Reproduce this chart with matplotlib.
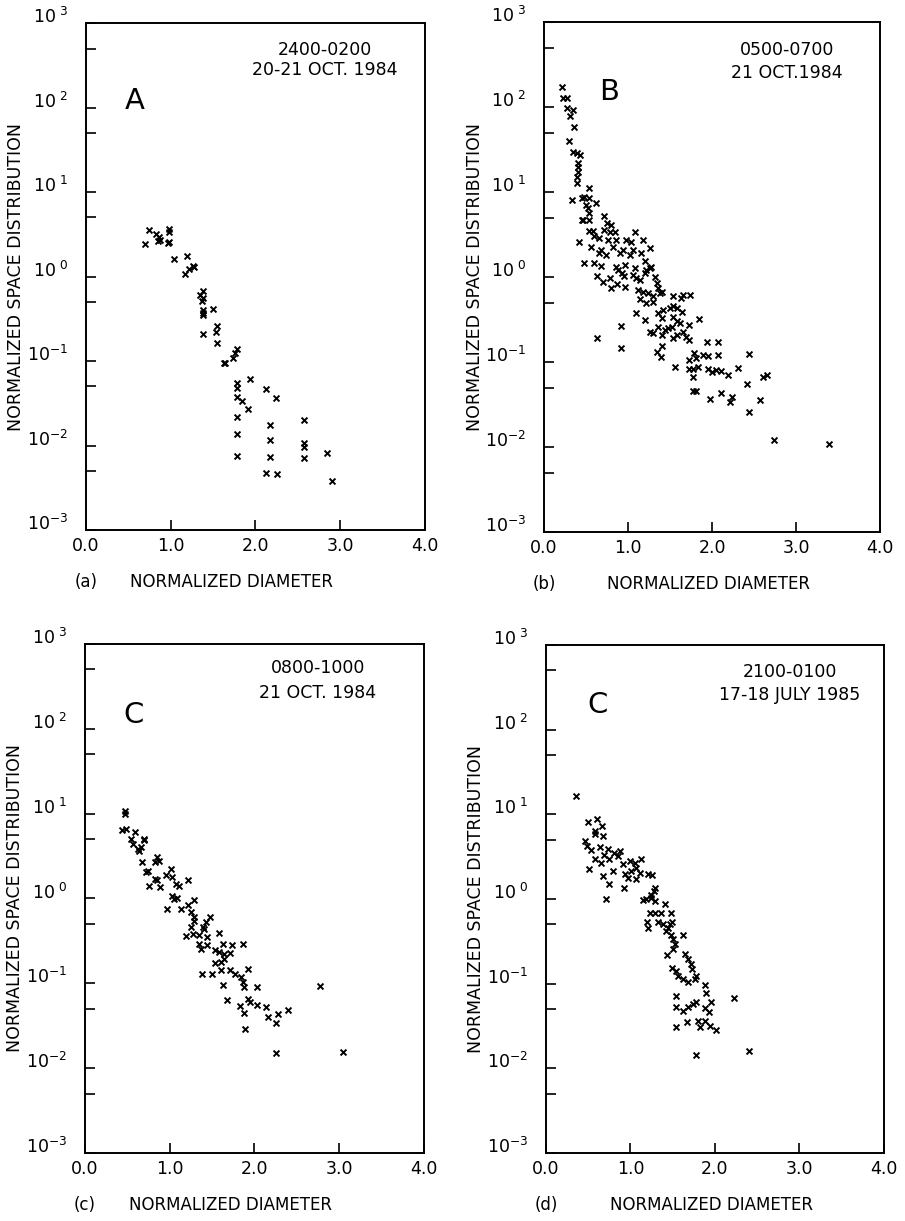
import numpy as np
import matplotlib.pyplot as plt
from matplotlib.ticker import FixedLocator, NullFormatter
from matplotlib.transforms import ScaledTranslation

plt.rcParams['font.family'] = 'DejaVu Sans'
plt.rcParams['mathtext.fontset'] = 'dejavusans'

# --- panel A : 2400-0200, 20-21 Oct 1984
a_x = [0.74, 0.83, 0.86, 0.85, 0.87, 0.70, 0.98, 0.98, 0.98, 0.97,
       1.04, 1.19, 1.17, 1.22, 1.26, 1.27, 1.38, 1.35, 1.38, 1.37,
       1.38, 1.38, 1.38, 1.50, 1.55, 1.53, 1.38, 1.55, 1.78, 1.76,
       1.74, 1.63, 1.64, 1.94, 1.78, 1.78, 1.78, 1.84, 1.91, 1.78,
       2.13, 2.24, 1.78, 2.17, 2.17, 1.78, 2.17, 2.57, 2.57, 2.57,
       2.57, 2.84, 2.13, 2.25, 2.90]
a_y = [3.6, 3.2, 2.95, 2.63, 2.7, 2.43, 3.7, 3.38, 2.58, 2.47,
       1.61, 1.77, 1.06, 1.23, 1.35, 1.28, 0.667, 0.61, 0.556, 0.52,
       0.405, 0.37, 0.348, 0.413, 0.258, 0.221, 0.21, 0.163, 0.137, 0.125,
       0.109, 0.094, 0.094, 0.062, 0.0556, 0.0485, 0.038, 0.0338, 0.027, 0.0215,
       0.0465, 0.037, 0.0137, 0.0177, 0.0117, 0.00755, 0.0073, 0.0202, 0.0106, 0.0095,
       0.0072, 0.0082, 0.0047, 0.0046, 0.0038]

# --- panel B : 0500-0700, 21 Oct 1984
b_x = [0.21, 0.23, 0.27, 0.27, 0.35, 0.31, 0.36, 0.30, 0.34, 0.39,
       0.43, 0.41, 0.41, 0.41, 0.39, 0.39, 0.33, 0.54, 0.45, 0.48,
       0.54, 0.62, 0.50, 0.52, 0.54, 0.45, 0.47, 0.54, 0.71, 0.54,
       0.58, 0.42, 0.75, 0.80, 0.71, 0.79, 0.85, 1.08, 0.60, 0.66,
       0.76, 0.86, 0.98, 1.04, 1.18, 0.56, 0.68, 0.82, 0.94, 1.06,
       1.26, 0.66, 0.74, 0.90, 1.02, 1.15, 0.48, 0.60, 0.68, 0.86,
       0.96, 1.08, 1.20, 1.27, 0.63, 0.70, 0.79, 0.80, 0.87, 0.97,
       0.88, 0.93, 0.95, 1.06, 1.10, 1.14, 1.20, 1.22, 1.26, 1.32,
       1.34, 1.12, 1.18, 1.24, 1.30, 1.36, 1.38, 1.40, 1.14, 1.21,
       1.30, 1.54, 1.65, 1.74, 1.63, 1.10, 1.20, 1.36, 1.40, 1.42,
       1.50, 1.54, 1.58, 1.64, 1.54, 1.58, 1.62, 1.26, 1.30, 1.36,
       1.40, 1.44, 1.48, 1.52, 1.54, 1.58, 1.65, 1.69, 1.73, 1.73,
       1.84, 0.92, 0.63, 0.92, 1.34, 1.40, 1.39, 1.56, 1.73, 1.79,
       1.81, 1.83, 1.89, 1.95, 1.73, 1.77, 1.77, 1.77, 1.81, 1.94,
       2.07, 2.07, 2.44, 1.95, 2.00, 2.05, 2.11, 2.19, 2.31, 1.98,
       2.11, 2.22, 2.24, 2.42, 2.44, 2.57, 2.61, 2.65, 2.74, 3.39]
b_y = [170, 129, 129, 98, 93, 79, 58, 40, 29.6, 28.5,
       27, 21.9, 19.9, 17.3, 15.1, 12.6, 8.05, 11, 8.4, 8.8,
       8.4, 7.5, 7.0, 6.4, 5.7, 4.7, 4.7, 4.7, 5.2, 3.5,
       3.5, 2.6, 4.3, 4.1, 3.6, 3.4, 3.4, 3.4, 3.0, 2.85,
       2.7, 2.7, 2.7, 2.6, 2.7, 2.27, 2.08, 2.27, 2.08, 2.08,
       2.2, 1.9, 1.8, 1.9, 1.8, 1.9, 1.45, 1.47, 1.35, 1.32,
       1.38, 1.27, 1.56, 1.3, 1.03, 0.88, 0.96, 0.74, 0.83, 0.77,
       1.21, 1.10, 1.03, 1.06, 0.96, 0.92, 1.10, 1.21, 1.26, 1.01,
       0.84, 0.70, 0.67, 0.64, 0.59, 0.74, 0.64, 0.67, 0.55, 0.49,
       0.51, 0.59, 0.61, 0.61, 0.56, 0.38, 0.31, 0.38, 0.33, 0.41,
       0.43, 0.45, 0.43, 0.39, 0.34, 0.30, 0.285, 0.227, 0.221, 0.26,
       0.208, 0.238, 0.249, 0.26, 0.19, 0.208, 0.227, 0.199, 0.18, 0.272,
       0.318, 0.265, 0.193, 0.145, 0.132, 0.154, 0.116, 0.088, 0.106, 0.126,
       0.11, 0.088, 0.12, 0.118, 0.082, 0.082, 0.066, 0.045, 0.045, 0.173,
       0.173, 0.12, 0.124, 0.082, 0.077, 0.08, 0.079, 0.070, 0.084, 0.037,
       0.043, 0.034, 0.039, 0.055, 0.026, 0.036, 0.066, 0.070, 0.0121, 0.0108]

# --- panel C : 0800-1000, 21 Oct 1984
c_x = [0.47, 0.47, 0.44, 0.48, 0.54, 0.59, 0.70, 0.57, 0.62, 0.66,
       0.64, 0.70, 0.67, 0.74, 0.72, 0.85, 0.83, 0.87, 0.83, 0.85,
       0.76, 0.89, 0.96, 1.01, 1.03, 1.07, 1.11, 1.22, 1.03, 1.05,
       1.09, 0.97, 1.13, 1.21, 1.29, 1.25, 1.29, 1.29, 1.48, 1.25,
       1.27, 1.19, 1.35, 1.39, 1.43, 1.41, 1.44, 1.35, 1.37, 1.44,
       1.58, 1.63, 1.74, 1.86, 1.53, 1.58, 1.64, 1.71, 1.53, 1.61,
       1.64, 1.60, 1.71, 1.77, 1.84, 1.92, 1.38, 1.50, 1.63, 1.86,
       1.88, 2.03, 1.67, 1.83, 1.88, 1.92, 1.95, 2.03, 2.13, 2.16,
       2.25, 2.28, 2.40, 1.89, 2.25, 2.77, 3.05]
c_y = [10.8, 9.9, 6.4, 6.6, 5.0, 6.0, 5.0, 4.4, 3.84, 4.0,
       3.67, 4.9, 2.67, 2.13, 2.04, 3.06, 2.67, 2.8, 1.70, 1.63,
       1.42, 1.36, 1.87, 2.23, 1.78, 1.49, 1.42, 1.66, 1.08, 0.99,
       1.02, 0.755, 0.755, 0.83, 0.96, 0.69, 0.61, 0.55, 0.61, 0.46,
       0.38, 0.357, 0.367, 0.46, 0.53, 0.44, 0.35, 0.293, 0.256, 0.28,
       0.39, 0.293, 0.28, 0.293, 0.244, 0.234, 0.223, 0.227, 0.173, 0.178,
       0.195, 0.142, 0.145, 0.13, 0.119, 0.149, 0.13, 0.13, 0.096, 0.104,
       0.091, 0.091, 0.063, 0.0536, 0.045, 0.066, 0.060, 0.055, 0.0527, 0.040,
       0.034, 0.043, 0.049, 0.0288, 0.015, 0.092, 0.0155]

# --- panel D : 2100-0100, 17-18 July 1985
d_x = [0.35, 0.50, 0.60, 0.66, 0.58, 0.67, 0.58, 0.465, 0.49, 0.53,
       0.635, 0.73, 0.81, 0.87, 0.69, 0.575, 0.655, 0.75, 0.85, 0.91,
       0.99, 1.05, 1.13, 1.07, 1.01, 0.505, 0.675, 0.79, 0.93, 0.97,
       0.92, 1.11, 1.21, 1.26, 0.75, 1.07, 0.707, 1.148, 1.187, 1.247,
       1.278, 1.294, 1.247, 1.286, 1.404, 1.226, 1.286, 1.365, 1.483, 1.199,
       1.207, 1.325, 1.385, 1.444, 1.464, 1.491, 1.424, 1.483, 1.621, 1.503,
       1.53, 1.503, 1.436, 1.491, 1.542, 1.562, 1.621, 1.68, 1.64, 1.68,
       1.72, 1.727, 1.78, 1.76, 1.877, 1.89, 1.542, 1.542, 1.62, 1.68,
       1.74, 1.78, 1.885, 1.93, 1.957, 1.67, 1.80, 1.82, 1.877, 1.937,
       2.016, 1.542, 2.23, 1.78, 2.40]
d_y = [16.3, 8.1, 8.8, 7.3, 6.3, 5.6, 5.9, 4.8, 4.2, 3.74,
       4.1, 3.84, 3.5, 3.67, 3.3, 2.93, 2.67, 2.93, 3.2, 2.56,
       2.8, 2.67, 2.93, 2.34, 2.13, 2.23, 1.87, 2.13, 1.95, 1.75,
       1.36, 2.04, 1.95, 1.9, 1.51, 1.70, 0.99, 0.96, 0.99, 1.12,
       1.24, 1.36, 1.04, 0.95, 0.865, 0.69, 0.69, 0.69, 0.69, 0.53,
       0.46, 0.53, 0.50, 0.46, 0.50, 0.53, 0.42, 0.38, 0.38, 0.335,
       0.293, 0.256, 0.219, 0.155, 0.142, 0.124, 0.113, 0.104, 0.223, 0.195,
       0.17, 0.149, 0.124, 0.113, 0.097, 0.077, 0.072, 0.0527, 0.048, 0.0527,
       0.058, 0.060, 0.052, 0.046, 0.060, 0.035, 0.0367, 0.0306, 0.0367, 0.0315,
       0.028, 0.031, 0.068, 0.0145, 0.016]

x_ticks = [0.0, 1.0, 2.0, 3.0, 4.0]
x_labels = ['0.0', '1.0', '2.0', '3.0', '4.0']
exps = [-3, -2, -1, 0, 1, 2, 3]

panels = [
    dict(x=a_x, y=a_y, rect=[0.0950, 0.5659, 0.3746, 0.4152], big='A', big_xy=(0.145, 0.846),
         note=('2400-0200', '20-21 OCT. 1984'), note_xy=(0.705, 0.947, 0.907),
         tag='(a)', lab_x=0.43),
    dict(x=b_x, y=b_y, rect=[0.6011, 0.5643, 0.3713, 0.4177], big='B', big_xy=(0.193, 0.863),
         note=('0500-0700', '21 OCT.1984'), note_xy=(0.723, 0.945, 0.900),
         tag='(b)', lab_x=0.49),
    dict(x=c_x, y=c_y, rect=[0.0939, 0.0557, 0.3746, 0.4169], big='C', big_xy=(0.142, 0.861),
         note=('0800-1000', '21 OCT. 1984'), note_xy=(0.687, 0.953, 0.904),
         tag='(c)', lab_x=0.43),
    dict(x=d_x, y=d_y, rect=[0.6033, 0.0557, 0.3735, 0.4161], big='C', big_xy=(0.154, 0.882),
         note=('2100-0100', '17-18 JULY 1985'), note_xy=(0.722, 0.947, 0.902),
         tag='(d)', lab_x=0.49),
]

fig = plt.figure(figsize=(9.05, 12.21), dpi=100)
shift_up = ScaledTranslation(0, 8 / 100, fig.dpi_scale_trans)

for p in panels:
    ax = fig.add_axes(p['rect'])
    ax.scatter(p['x'], p['y'], marker='x', s=18, c='black', linewidths=1.4)
    ax.set_yscale('log')
    ax.set_xlim(0, 4)
    ax.set_ylim(1e-3, 1e3)

    ax.yaxis.set_major_locator(FixedLocator([10.0 ** e for e in exps]))
    ax.yaxis.set_minor_locator(FixedLocator([5 * 10.0 ** e for e in exps[:-1]]))
    ax.yaxis.set_minor_formatter(NullFormatter())
    ylabels = []
    for e in exps:
        if e < 0:
            ylabels.append(r'10$^{%d}$' % e)
        else:
            ylabels.append(r'10$^{\ %d}$' % e)
    ax.set_yticklabels(ylabels)
    ax.set_xticks(x_ticks)
    ax.set_xticklabels(x_labels)

    ax.tick_params(axis='y', which='both', direction='in', length=7, width=1.2,
                   labelsize=12.5, pad=13)
    ax.tick_params(axis='x', direction='in', length=7, width=1.2, labelsize=12.5, pad=5)
    for lab in ax.get_yticklabels():
        lab.set_transform(lab.get_transform() + shift_up)
    for s in ax.spines.values():
        s.set_linewidth(1.4)

    ax.set_ylabel('NORMALIZED SPACE DISTRIBUTION', fontsize=12.5)
    ax.yaxis.set_label_coords(-0.18, 0.5)
    ax.text(0.0, -0.102, p['tag'], transform=ax.transAxes, fontsize=12,
            ha='center', va='center')
    ax.text(p['lab_x'], -0.102, 'NORMALIZED DIAMETER', transform=ax.transAxes,
            fontsize=12, ha='center', va='center')

    ax.text(p['big_xy'][0], p['big_xy'][1], p['big'], transform=ax.transAxes,
            fontsize=21, ha='center', va='center')
    nx, ny1, ny2 = p['note_xy']
    ax.text(nx, ny1, p['note'][0], transform=ax.transAxes, fontsize=12.5,
            ha='center', va='center')
    ax.text(nx, ny2, p['note'][1], transform=ax.transAxes, fontsize=12.5,
            ha='center', va='center')

fig.savefig('out.png', dpi=100)
